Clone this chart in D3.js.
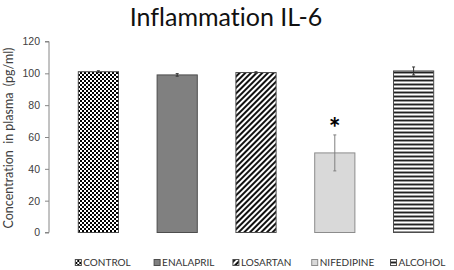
<!DOCTYPE html>
<html>
<head>
<meta charset="utf-8">
<script src="https://cdn.jsdelivr.net/npm/d3@7"></script>
<style>
  body { margin: 0; background: #fff; }
  svg { display: block; font-family: Lato, "Open Sans", sans-serif; font-variant-ligatures: none; }
  .axis path, .axis line { stroke: #868686; }
  .axis text { fill: #404040; font-size: 10.5px; }
</style>
</head>
<body>
<svg width="454" height="270"></svg>
<script>
// **** data ****
const groups = ['CONTROL', 'ENALAPRIL', 'LOSARTAN', 'NIFEDIPINE', 'ALCOHOL'];
const means = [101, 99, 100.5, 50, 101.5];
const errors = [0.6, 0.8, 0.5, 11.3, 2.5];
const yTicks = [0, 20, 40, 60, 80, 100, 120];
const fills = ['url(#check)', '#808080', 'url(#diag)', '#d9d9d9', 'url(#hstripe)'];

const svg = d3.select('svg');

// **** patterns ****
const defs = svg.append('defs');

const check = defs.append('pattern').attr('id', 'check')
    .attr('patternUnits', 'userSpaceOnUse').attr('width', 4).attr('height', 4);
check.append('rect').attr('width', 4).attr('height', 4).attr('fill', '#fff');
check.append('rect').attr('width', 2).attr('height', 2).attr('fill', '#000');
check.append('rect').attr('x', 2).attr('y', 2).attr('width', 2).attr('height', 2).attr('fill', '#000');

const diag = defs.append('pattern').attr('id', 'diag')
    .attr('patternUnits', 'userSpaceOnUse').attr('width', 4).attr('height', 4)
    .attr('patternTransform', 'rotate(45)');
diag.append('rect').attr('width', 4).attr('height', 4).attr('fill', '#fff');
diag.append('rect').attr('width', 2).attr('height', 4).attr('fill', '#111');

const hstripe = defs.append('pattern').attr('id', 'hstripe')
    .attr('patternUnits', 'userSpaceOnUse').attr('width', 4).attr('height', 4);
hstripe.append('rect').attr('width', 4).attr('height', 4).attr('fill', '#fff');
hstripe.append('rect').attr('y', 0).attr('width', 4).attr('height', 1).attr('fill', '#222');
hstripe.append('rect').attr('y', 1).attr('width', 4).attr('height', 1).attr('fill', '#999');
hstripe.append('rect').attr('y', 3).attr('width', 4).attr('height', 1).attr('fill', '#999');

// **** scales and axes ****
const x = d3.scaleBand().domain(groups).range([59, 453]).paddingInner(0.49).paddingOuter(0.245);
const y = d3.scaleLinear().domain([0, 120]).range([232.5, 41.5]);

svg.append('g').attr('class', 'y axis')
    .attr('transform', 'translate(49,0)')
    .call(d3.axisLeft(y).tickValues(yTicks).tickSize(4).tickPadding(5))
    .call(g => g.select('.domain').attr('d', `M-4,${y(120)}H0V${y(0)}H-4`));

svg.append('text')
    .attr('transform', 'translate(13,138) rotate(-90)')
    .attr('text-anchor', 'middle')
    .style('font-size', '12.5px')
    .style('fill', '#404040')
    .attr('xml:space', 'preserve')
    .text('Concentration  in plasma  (pg/ml)');

svg.append('text')
    .attr('x', 226).attr('y', 26)
    .attr('text-anchor', 'middle')
    .style('font-size', '25px')
    .style('fill', '#111')
    .text('Inflammation IL-6');

// **** bars ****
svg.selectAll('.bar')
    .data(groups)
    .enter()
    .append('rect')
    .attr('class', 'bar')
    .attr('x', d => x(d))
    .attr('y', (d, i) => y(means[i]))
    .attr('width', x.bandwidth())
    .attr('height', (d, i) => y(0) - y(means[i]))
    .attr('fill', (d, i) => fills[i])
    .attr('stroke', (d, i) => i === 3 ? '#8c8c8c' : '#4d4d4d')
    .attr('stroke-width', 1);

// error bars
const eg = svg.selectAll('.err')
    .data(groups)
    .enter()
    .append('g')
    .attr('class', 'err')
    .attr('transform', d => `translate(${x(d) + x.bandwidth() / 2},0)`)
    .style('stroke', (d, i) => i === 3 ? '#7f7f7f' : '#333');

eg.append('line')
    .attr('y1', (d, i) => y(means[i] + errors[i]))
    .attr('y2', (d, i) => y(means[i] - errors[i]));
eg.append('line').attr('x1', -1.5).attr('x2', 1.5)
    .attr('y1', (d, i) => y(means[i] + errors[i]))
    .attr('y2', (d, i) => y(means[i] + errors[i]));
eg.append('line').attr('x1', -1.5).attr('x2', 1.5)
    .attr('y1', (d, i) => y(means[i] - errors[i]))
    .attr('y2', (d, i) => y(means[i] - errors[i]));

// significance mark
svg.append('text')
    .attr('x', x('NIFEDIPINE') + x.bandwidth() / 2)
    .attr('y', y(means[3] + errors[3]) + 3)
    .attr('text-anchor', 'middle')
    .style('font-size', '28px')
    .style('font-weight', 'bold')
    .style('fill', '#000')
    .text('*');

// **** legend ****
const legend = svg.selectAll('.legend')
    .data(groups)
    .enter()
    .append('g')
    .attr('class', 'legend')
    .attr('transform', d => `translate(${x(d) - 3},266)`);

legend.append('rect')
    .attr('x', 0).attr('y', -6.5)
    .attr('width', 6).attr('height', 6)
    .attr('fill', (d, i) => fills[i])
    .attr('stroke', (d, i) => i === 3 ? '#8c8c8c' : '#4d4d4d');

legend.append('text')
    .attr('x', 8)
    .style('font-size', '10px')
    .style('fill', '#333')
    .text(d => d);
</script>
</body>
</html>
